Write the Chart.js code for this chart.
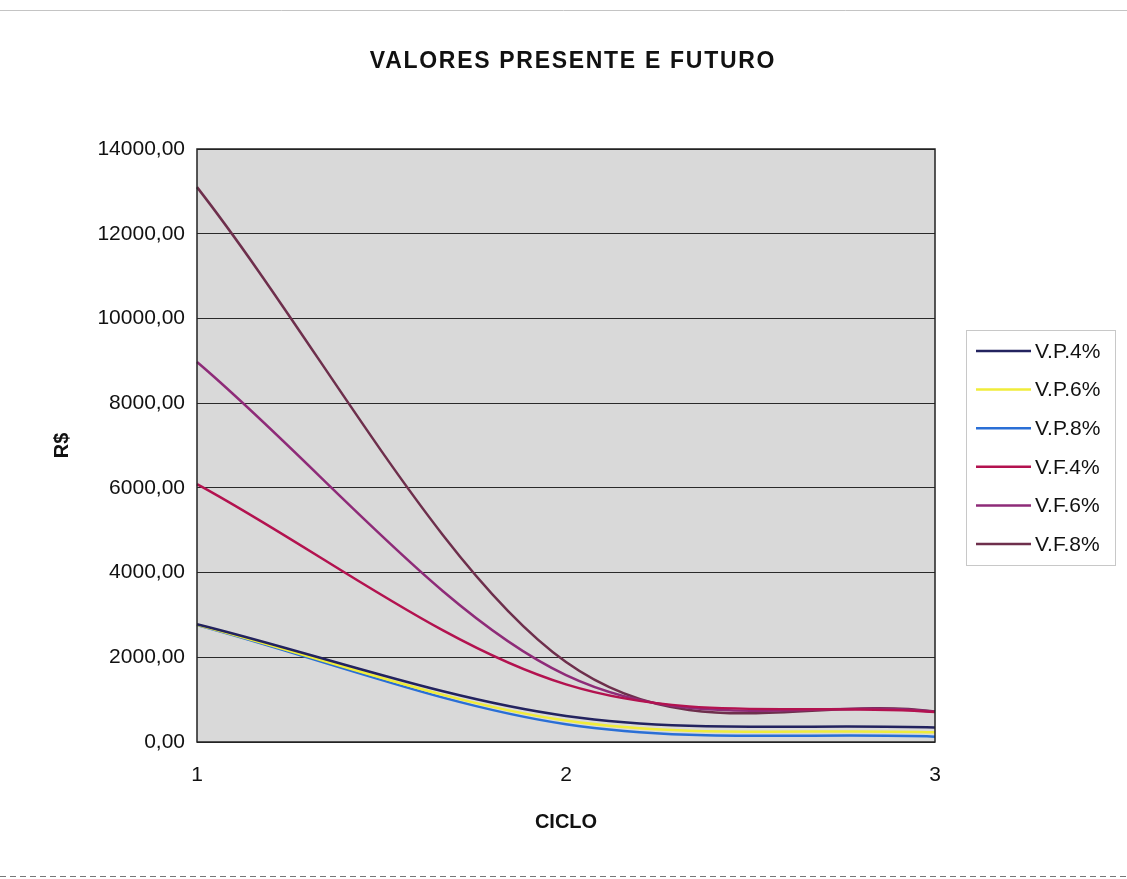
<!DOCTYPE html>
<html><head><meta charset="utf-8">
<script src="https://cdn.jsdelivr.net/npm/chart.js@4.4.0/dist/chart.umd.min.js"></script>
<style>html,body{margin:0;padding:0;background:#fff}canvas{display:block}</style>
</head><body>
<canvas id="c" width="1127" height="879"></canvas>
<script>
const chartTitle = 'VALORES PRESENTE E FUTURO';
const xTitle = 'CICLO';
const yTitle = 'R$';
const categories = ['1', '2', '3'];
const seriesNames = ['V.P.4%', 'V.P.6%', 'V.P.8%', 'V.F.4%', 'V.F.6%', 'V.F.8%'];
const vp4 = [2780, 615, 340];
const vp6 = [2770, 505, 228];
const vp8 = [2760, 420, 126];
const vf4 = [6090, 1360, 710];
const vf6 = [8970, 1580, 715];
const vf8 = [13100, 1890, 720];
const yMin = 0, yMax = 14000, yStep = 2000;
const seriesColors = ['#23235f', '#f0ec3a', '#2a6fd6', '#b3124f', '#8e2b78', '#6e2f4c'];

const seriesValues = [vp4, vp6, vp8, vf4, vf6, vf8];

// Excel-style smoothing (uniform Catmull-Rom) applied to the library's own point positions
const smoothPlugin = {
  id: 'excelSmooth',
  beforeDatasetDraw(chart, args) {
    const meta = args.meta;
    if (!meta || !meta.dataset || !meta.dataset.updateControlPoints) return;
    meta.dataset.updateControlPoints(chart.chartArea, 'x');
    const pts = meta.data;
    const n = pts.length;
    for (let i = 0; i < n; i++) {
      const p = pts[i];
      const prev = pts[Math.max(i - 1, 0)];
      const next = pts[Math.min(i + 1, n - 1)];
      if (i === 0) {
        p.cp2x = p.x + (next.x - p.x) / 3; p.cp2y = p.y + (next.y - p.y) / 3;
        p.cp1x = p.x; p.cp1y = p.y;
      } else if (i === n - 1) {
        p.cp1x = p.x - (p.x - prev.x) / 3; p.cp1y = p.y - (p.y - prev.y) / 3;
        p.cp2x = p.x; p.cp2y = p.y;
      } else {
        const dx = (next.x - prev.x) / 6, dy = (next.y - prev.y) / 6;
        p.cp1x = p.x - dx; p.cp1y = p.y - dy;
        p.cp2x = p.x + dx; p.cp2y = p.y + dy;
      }
    }
  }
};

const bgPlugin = {
  id: 'bg',
  beforeDraw(chart) {
    const {ctx, chartArea: a, width} = chart;
    ctx.save();
    ctx.fillStyle = '#fff';
    ctx.fillRect(0, 0, chart.width, chart.height);
    ctx.fillStyle = '#d9d9d9';
    ctx.fillRect(a.left, a.top, a.right - a.left, a.bottom - a.top);
    ctx.strokeStyle = '#c4c4c4';
    ctx.lineWidth = 1;
    ctx.beginPath(); ctx.moveTo(0, 10.5); ctx.lineTo(width, 10.5); ctx.stroke();
    ctx.setLineDash([6, 4]);
    ctx.strokeStyle = '#777';
    ctx.beginPath(); ctx.moveTo(0, 876.5); ctx.lineTo(width, 876.5); ctx.stroke();
    ctx.restore();
  },
  afterDatasetsDraw(chart) {
    const {ctx, chartArea: a} = chart;
    ctx.save();
    ctx.strokeStyle = '#222';
    ctx.lineWidth = 1.5;
    ctx.strokeRect(a.left, a.top, a.right - a.left, a.bottom - a.top);
    ctx.restore();
  },
  afterDraw(chart) {
    const {ctx} = chart;
    ctx.save();
    // title
    ctx.font = 'bold 23px "Liberation Sans", Arial, sans-serif';
    ctx.fillStyle = '#111';
    ctx.textAlign = 'center';
    ctx.textBaseline = 'middle';
    ctx.letterSpacing = '1.7px';
    ctx.fillText(chartTitle, 573, 62);
    ctx.letterSpacing = '0px';
    // legend
    ctx.fillStyle = '#fff';
    ctx.fillRect(966, 330, 149, 235);
    ctx.strokeStyle = '#c8c8c8';
    ctx.lineWidth = 1;
    ctx.strokeRect(966.5, 330.5, 149, 235);
    ctx.font = '21px "Liberation Sans", Arial, sans-serif';
    ctx.textAlign = 'left';
    chart.data.datasets.forEach((ds, i) => {
      const y = 351 + i * 38.6;
      ctx.strokeStyle = ds.borderColor;
      ctx.lineWidth = 2.5;
      ctx.beginPath(); ctx.moveTo(976, y); ctx.lineTo(1031, y); ctx.stroke();
      ctx.fillStyle = '#111';
      ctx.fillText(ds.label, 1035, y + 1);
    });
    ctx.restore();
  }
};

new Chart(document.getElementById('c'), {
  type: 'line',
  data: {
    labels: categories,
    datasets: seriesNames.map((name, i) => ({
      label: name,
      data: seriesValues[i],
      borderColor: seriesColors[i],
      backgroundColor: seriesColors[i],
      borderWidth: 2.5,
      pointRadius: 0,
      tension: 0.4,
      fill: false
    }))
  },
  options: {
    responsive: false,
    animation: false,
    devicePixelRatio: 1,
    layout: {padding: {left: 40, top: 149, right: 192, bottom: 0}},
    plugins: {legend: {display: false}, title: {display: false}, tooltip: {enabled: false}},
    scales: {
      x: {
        type: 'category',
        offset: false,
        grid: {display: false, drawTicks: false},
        border: {display: false},
        ticks: {color: '#111', font: {size: 21, family: '"Liberation Sans", Arial, sans-serif'}, padding: 21, maxRotation: 0},
        title: {display: true, text: xTitle, color: '#111', font: {size: 20, weight: 'bold', family: '"Liberation Sans", Arial, sans-serif'}, padding: {top: 0, bottom: 45}},
        afterFit: s => { s.height = 137; }
      },
      y: {
        min: yMin, max: yMax,
        grid: {color: '#2a2a2a', lineWidth: 1, drawTicks: false},
        border: {display: false},
        ticks: {stepSize: yStep, color: '#111', padding: 12,
          font: {size: 21, family: '"Liberation Sans", Arial, sans-serif'},
          callback: v => v.toFixed(2).replace('.', ',')},
        title: {display: true, text: yTitle, color: '#111', font: {size: 20, weight: 'bold', family: '"Liberation Sans", Arial, sans-serif'}, padding: {top: 10, bottom: 0}},
        afterFit: s => { s.width = 157; }
      }
    }
  },
  plugins: [smoothPlugin, bgPlugin]
});
</script>
</body></html>
